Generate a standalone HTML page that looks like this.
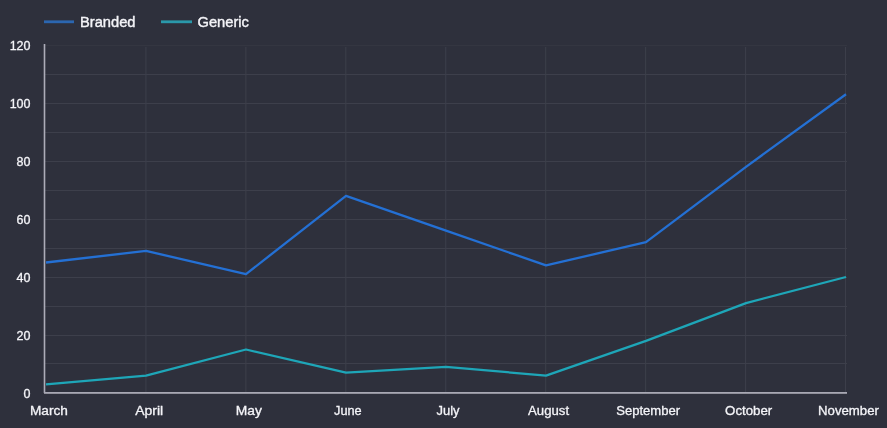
<!DOCTYPE html>
<html><head><meta charset="utf-8"><style>
html,body{margin:0;padding:0;background:#2e303c;width:887px;height:428px;overflow:hidden}
svg{display:block}
text{font-family:"Liberation Sans",sans-serif;fill:#f4f4f8;stroke:#f4f4f8}
</style></head><body>
<svg width="887" height="428" viewBox="0 0 887 428">
<rect width="887" height="428" fill="#2e303c"/>
<line x1="45" y1="363.5" x2="847" y2="363.5" stroke="#3d3f4b" stroke-width="1"/>
<line x1="45" y1="335.5" x2="847" y2="335.5" stroke="#3d3f4b" stroke-width="1"/>
<line x1="45" y1="306.5" x2="847" y2="306.5" stroke="#3d3f4b" stroke-width="1"/>
<line x1="45" y1="277.5" x2="847" y2="277.5" stroke="#3d3f4b" stroke-width="1"/>
<line x1="45" y1="248.5" x2="847" y2="248.5" stroke="#3d3f4b" stroke-width="1"/>
<line x1="45" y1="219.5" x2="847" y2="219.5" stroke="#3d3f4b" stroke-width="1"/>
<line x1="45" y1="190.5" x2="847" y2="190.5" stroke="#3d3f4b" stroke-width="1"/>
<line x1="45" y1="161.5" x2="847" y2="161.5" stroke="#3d3f4b" stroke-width="1"/>
<line x1="45" y1="132.5" x2="847" y2="132.5" stroke="#3d3f4b" stroke-width="1"/>
<line x1="45" y1="103.5" x2="847" y2="103.5" stroke="#3d3f4b" stroke-width="1"/>
<line x1="45" y1="74.5" x2="847" y2="74.5" stroke="#3d3f4b" stroke-width="1"/>
<line x1="45" y1="45.5" x2="847" y2="45.5" stroke="#343641" stroke-width="1"/>
<line x1="145.94" y1="47" x2="145.94" y2="392" stroke="#3d3f4b" stroke-width="1"/>
<line x1="245.88" y1="47" x2="245.88" y2="392" stroke="#3d3f4b" stroke-width="1"/>
<line x1="345.82" y1="47" x2="345.82" y2="392" stroke="#3d3f4b" stroke-width="1"/>
<line x1="445.76" y1="47" x2="445.76" y2="392" stroke="#3d3f4b" stroke-width="1"/>
<line x1="545.7" y1="47" x2="545.7" y2="392" stroke="#3d3f4b" stroke-width="1"/>
<line x1="645.64" y1="47" x2="645.64" y2="392" stroke="#3d3f4b" stroke-width="1"/>
<line x1="745.58" y1="47" x2="745.58" y2="392" stroke="#3d3f4b" stroke-width="1"/>
<line x1="845.52" y1="47" x2="845.52" y2="392" stroke="#3d3f4b" stroke-width="1"/>
<rect x="43.7" y="44" width="1.6" height="349" fill="#acacb8"/>
<rect x="44" y="392" width="803" height="1.8" fill="#a8a8b4"/>
<polyline points="46,384.30 146,375.60 246,349.50 346,372.70 446,366.90 546,375.60 646,340.80 746,303.10 846,277.00" fill="none" stroke="#1ea6b8" stroke-width="2.3" stroke-linejoin="round"/>
<polyline points="46,262.50 146,250.90 246,274.10 346,195.80 446,230.60 546,265.40 646,242.20 746,166.80 846,94.30" fill="none" stroke="#2470d4" stroke-width="2.3" stroke-linejoin="round"/>
<text style="will-change:transform" x="30.5" y="397.67" text-anchor="end" font-size="12.5" stroke-width="0.3">0</text>
<text style="will-change:transform" x="30.5" y="339.67" text-anchor="end" font-size="12.5" stroke-width="0.3">20</text>
<text style="will-change:transform" x="30.5" y="281.67" text-anchor="end" font-size="12.5" stroke-width="0.3">40</text>
<text style="will-change:transform" x="30.5" y="223.67" text-anchor="end" font-size="12.5" stroke-width="0.3">60</text>
<text style="will-change:transform" x="30.5" y="165.67" text-anchor="end" font-size="12.5" stroke-width="0.3">80</text>
<text style="will-change:transform" x="30.5" y="107.67" text-anchor="end" font-size="12.5" stroke-width="0.3">100</text>
<text style="will-change:transform" x="30.5" y="49.67" text-anchor="end" font-size="12.5" stroke-width="0.3">120</text>
<text style="will-change:transform" transform="translate(48.90,414.7) scale(1.0930,1)" text-anchor="middle" font-size="12.5" stroke-width="0.3">March</text>
<text style="will-change:transform" transform="translate(149.15,414.7) scale(1.1187,1)" text-anchor="middle" font-size="12.5" stroke-width="0.3">April</text>
<text style="will-change:transform" transform="translate(248.81,414.7) scale(1.1077,1)" text-anchor="middle" font-size="12.5" stroke-width="0.3">May</text>
<text style="will-change:transform" transform="translate(347.89,414.7) scale(1.0199,1)" text-anchor="middle" font-size="12.5" stroke-width="0.3">June</text>
<text style="will-change:transform" transform="translate(448.02,414.7) scale(1.0376,1)" text-anchor="middle" font-size="12.5" stroke-width="0.3">July</text>
<text style="will-change:transform" transform="translate(548.57,414.7) scale(1.0523,1)" text-anchor="middle" font-size="12.5" stroke-width="0.3">August</text>
<text style="will-change:transform" transform="translate(648.18,414.7) scale(1.0461,1)" text-anchor="middle" font-size="12.5" stroke-width="0.3">September</text>
<text style="will-change:transform" transform="translate(748.66,414.7) scale(1.0623,1)" text-anchor="middle" font-size="12.5" stroke-width="0.3">October</text>
<text style="will-change:transform" transform="translate(848.49,414.7) scale(1.0580,1)" text-anchor="middle" font-size="12.5" stroke-width="0.3">November</text>
<rect x="44" y="20.4" width="30" height="2.8" fill="#2b66b0"/>
<text style="will-change:transform" x="80" y="26.6" font-size="14.7" stroke-width="0.4">Branded</text>
<rect x="161" y="20.4" width="31" height="2.8" fill="#2a98aa"/>
<text style="will-change:transform" x="197.5" y="26.6" font-size="14.7" stroke-width="0.4">Generic</text>
</svg>
</body></html>
